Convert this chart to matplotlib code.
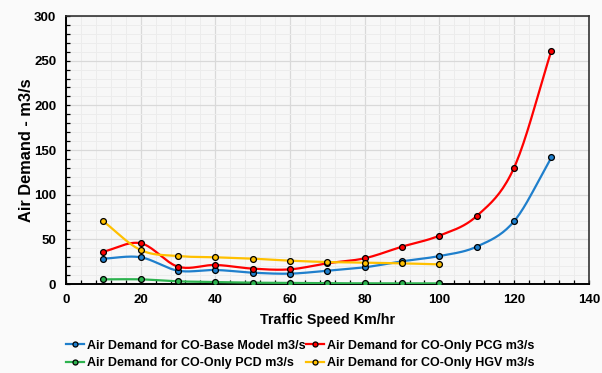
import numpy as np
import matplotlib
matplotlib.use("Agg")
import matplotlib.pyplot as plt
from matplotlib.ticker import MultipleLocator

plt.rcParams['font.family'] = ['Liberation Sans', 'DejaVu Sans']

speed = [10, 20, 30, 40, 50, 60, 70, 80, 90, 100, 110, 120, 130]
base_model = [28.4, 29.9, 14.9, 15.7, 12.7, 11.6, 14.9, 18.7, 25.4, 31.3, 41.8, 70.2, 141.8]
only_pcg = [36.2, 45.6, 19.4, 21.3, 17.2, 16.4, 23.2, 28.8, 41.8, 54.1, 76.1, 130.2, 261.3]
speed_short = [10, 20, 30, 40, 50, 60, 70, 80, 90, 100]
only_pcd = [5.2, 5.2, 3.0, 2.2, 1.5, 1.2, 0.8, 0.8, 0.7, 0.7]
only_hgv = [70.2, 38.0, 31.3, 29.9, 28.4, 26.1, 24.6, 23.9, 23.1, 22.0]

labels = ["Air Demand for CO-Base Model m3/s", "Air Demand for CO-Only PCG m3/s",
          "Air Demand for CO-Only PCD m3/s", "Air Demand for CO-Only HGV m3/s"]
colors = ["#1f7fcc", "#ff0000", "#2db34f", "#ffc000"]


def smooth(x, y, n=20):
    x = np.asarray(x, float)
    y = np.asarray(y, float)
    px = np.concatenate([[2 * x[0] - x[1]], x, [2 * x[-1] - x[-2]]])
    py = np.concatenate([[2 * y[0] - y[1]], y, [2 * y[-1] - y[-2]]])
    xs, ys = [], []
    t = np.linspace(0, 1, n, endpoint=False)
    for i in range(1, len(px) - 2):
        for (arr, out) in ((px, xs), (py, ys)):
            a0, a1, a2, a3 = arr[i - 1:i + 3]
            m1 = (a2 - a0) / 2
            m2 = (a3 - a1) / 2
            h00 = 2 * t**3 - 3 * t**2 + 1
            h10 = t**3 - 2 * t**2 + t
            h01 = -2 * t**3 + 3 * t**2
            h11 = t**3 - t**2
            out.extend(h00 * a1 + h10 * m1 + h01 * a2 + h11 * m2)
    xs.append(x[-1])
    ys.append(y[-1])
    return np.array(xs), np.array(ys)


fig = plt.figure(figsize=(6.02, 3.73), dpi=100, facecolor="#fafafa")
ax = fig.add_axes([0.1096, 0.2386, 0.8684, 0.7185])
ax.set_facecolor("#f7f7f7")

series = [(speed, base_model), (speed, only_pcg), (speed_short, only_pcd), (speed_short, only_hgv)]
order = [3, 2, 0, 1]
handles = [None] * 4
for i in order:
    xs, ys = series[i]
    sx, sy = smooth(xs, ys)
    ax.plot(sx, sy, color=colors[i], lw=1.6, zorder=3 + i)
    ax.plot(xs, ys, ls="none", marker="o", ms=4.2, mfc=colors[i], mec="black", mew=0.9, zorder=8 + i)
    handles[i] = ax.plot([], [], color=colors[i], lw=1.6, marker="o", ms=3.6,
                         mfc=colors[i], mec="black", mew=0.9)[0]

ax.set_xlim(0, 140)
ax.set_ylim(0, 300)
ax.xaxis.set_major_locator(MultipleLocator(20))
ax.xaxis.set_minor_locator(MultipleLocator(4))
ax.yaxis.set_major_locator(MultipleLocator(50))
ax.yaxis.set_minor_locator(MultipleLocator(10))
ax.grid(which="major", color="#d9d9d9", lw=0.9)
ax.grid(which="minor", color="#ececec", lw=0.7)
ax.set_axisbelow(True)
ax.tick_params(which="both", direction="in", length=3, width=0.9, color="black")
ax.tick_params(which="major", labelsize=9.5, pad=7)
for lab in ax.get_xticklabels() + ax.get_yticklabels():
    lab.set_fontweight("bold")
for s in ["left", "bottom"]:
    ax.spines[s].set_linewidth(1.4)
    ax.spines[s].set_color("black")
for s in ["top", "right"]:
    ax.spines[s].set_linewidth(1.2)
    ax.spines[s].set_color("#333333")

ax.set_xlabel("Traffic Speed Km/hr", fontsize=10.3, fontweight="bold", labelpad=5)
ax.set_ylabel("Air Demand - m3/s", fontsize=11.8, fontweight="bold", labelpad=0)

leg_order = [0, 2, 1, 3]
fig.legend([handles[k] for k in leg_order], [labels[k] for k in leg_order],
           loc="upper left", bbox_to_anchor=(0.110, 0.089), ncol=2,
           frameon=False, prop={"weight": "bold", "size": 9.0}, handlelength=1.45,
           handletextpad=0.2, columnspacing=0.05, labelspacing=0.45, borderaxespad=0,
           borderpad=0)

fig.savefig("out.png", dpi=100, facecolor=fig.get_facecolor())
